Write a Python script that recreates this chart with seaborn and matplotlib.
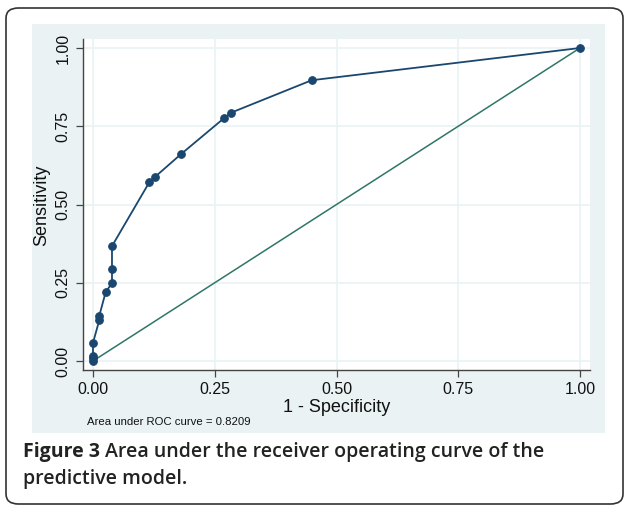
import numpy as np
import pandas as pd
import seaborn as sns
import matplotlib.pyplot as plt
from matplotlib.patches import FancyBboxPatch, Rectangle

# ROC points
fpr = [0.0, 0.0, 0.0, 0.0, 0.013, 0.013, 0.026, 0.039, 0.039, 0.039,
       0.116, 0.128, 0.180, 0.270, 0.283, 0.449, 1.0]
tpr = [0.0, 0.008, 0.016, 0.058, 0.131, 0.145, 0.220, 0.249, 0.293, 0.367,
       0.572, 0.589, 0.660, 0.777, 0.793, 0.897, 1.0]
ref_line = [0.0, 1.0]
ticks = [0.0, 0.25, 0.50, 0.75, 1.0]
tick_labels = ["0.00", "0.25", "0.50", "0.75", "1.00"]
auc_text = "Area under ROC curve = 0.8209"

NAVY = "#1a476f"
GREEN = "#2f7667"
BG = "#eaf2f3"

sns.set_theme(style="white")
plt.rcParams['font.family'] = ['Liberation Sans', 'DejaVu Sans']

W, H = 624, 505
fig = plt.figure(figsize=(W / 100, H / 100), dpi=100)
fig.patch.set_facecolor("white")

# outer rounded frame and stata-style background
frame = FancyBboxPatch((6 / W, 1 - 504 / H), (623 - 6) / W, (504 - 8) / H,
                       boxstyle="round,pad=0,rounding_size=0.02",
                       transform=fig.transFigure, facecolor="none",
                       edgecolor="#333333", linewidth=1.2, zorder=-2)
fig.patches.append(frame)
fig.patches.append(Rectangle((32 / W, 1 - 433 / H), (605 - 32) / W, (433 - 24) / H,
                             transform=fig.transFigure, facecolor=BG,
                             edgecolor="none", zorder=-1))

ax = fig.add_axes([83 / W, 1 - 370 / H, (590 - 83) / W, (370 - 39) / H])
ax.set_zorder(1)
ax.set_facecolor("white")

roc = pd.DataFrame({"fpr": fpr, "tpr": tpr})
sns.lineplot(data=roc, x="fpr", y="tpr", estimator=None, sort=False,
             color=NAVY, linewidth=1.3, marker="o", markersize=5.5,
             markeredgecolor=NAVY, ax=ax, zorder=3)
sns.lineplot(x=ref_line, y=ref_line, estimator=None, sort=False,
             color=GREEN, linewidth=1.1, ax=ax, zorder=2)

ax.set_xlim(-10 / 487, 1 + 10 / 487)
ax.set_ylim(-9 / 313, 1 + 9 / 313)
ax.set_xticks(ticks)
ax.set_xticklabels(tick_labels, fontsize=11.5)
ax.set_yticks(ticks)
ax.set_yticklabels(tick_labels, fontsize=11.5, rotation=90, va="center")
ax.grid(True, color=BG, linewidth=1.2)
ax.set_axisbelow(True)
for s in ["top", "right"]:
    ax.spines[s].set_visible(False)
for s in ["left", "bottom"]:
    ax.spines[s].set_color("#444444")
    ax.spines[s].set_linewidth(1.0)
ax.tick_params(axis="both", direction="out", length=5, width=0.9,
               color="#444444", labelcolor="#111111", pad=4,
               left=True, bottom=True)

ax.set_xlabel("")
ax.set_ylabel("")
fig.text(337 / W, 1 - 407 / H, "1 - Specificity", fontsize=13,
         ha="center", va="center", color="#111111")
fig.text(42 / W, 1 - 205 / H, "Sensitivity", fontsize=13, rotation=90,
         ha="center", va="center", color="#111111")
fig.text(87 / W, 1 - 422 / H, auc_text, fontsize=8.2,
         ha="left", va="center", color="#111111")

cap_font = ["Open Sans", "DejaVu Sans"]
t1 = fig.text(23 / W, 1 - 452 / H, "Figure 3", fontsize=14, fontweight="bold",
              family=cap_font, ha="left", va="center", color="#222222")
fig.canvas.draw()
x_end = t1.get_window_extent().x1
fig.text((x_end + 5) / W, 1 - 452 / H,
         "Area under the receiver operating curve of the",
         fontsize=14, fontweight="semibold", family=cap_font,
         ha="left", va="center", color="#222222")
fig.text(23 / W, 1 - 479 / H, "predictive model.", fontsize=14,
         fontweight="semibold", family=cap_font,
         ha="left", va="center", color="#222222")

fig.savefig("out.png", dpi=100)
